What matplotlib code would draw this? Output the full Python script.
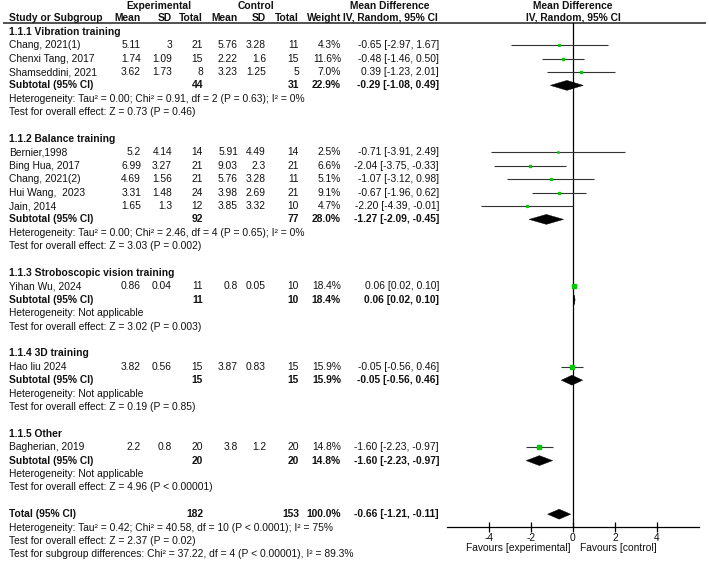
import matplotlib
matplotlib.use("Agg")
import matplotlib.pyplot as plt
import numpy as np

# ---------------- data ----------------
group_names = ["1.1.1 Vibration training", "1.1.2 Balance training",
               "1.1.3 Stroboscopic vision training", "1.1.4 3D training", "1.1.5 Other"]
study_names = ["Chang, 2021(1)", "Chenxi Tang, 2017", "Shamseddini, 2021",
               "Bernier,1998", "Bing Hua, 2017", "Chang, 2021(2)", "Hui Wang,  2023", "Jain, 2014",
               "Yihan Wu, 2024", "Hao liu 2024", "Bagherian, 2019"]
study_group = [0, 0, 0, 1, 1, 1, 1, 1, 2, 3, 4]
exp_mean = [5.11, 1.74, 3.62, 5.2, 6.99, 4.69, 3.31, 1.65, 0.86, 3.82, 2.2]
exp_sd = [3, 1.09, 1.73, 4.14, 3.27, 1.56, 1.48, 1.3, 0.04, 0.56, 0.8]
exp_n = [21, 15, 8, 14, 21, 21, 24, 12, 11, 15, 20]
ctl_mean = [5.76, 2.22, 3.23, 5.91, 9.03, 5.76, 3.98, 3.85, 0.8, 3.87, 3.8]
ctl_sd = [3.28, 1.6, 1.25, 4.49, 2.3, 3.28, 2.69, 3.32, 0.05, 0.83, 1.2]
ctl_n = [11, 15, 5, 14, 21, 11, 21, 10, 10, 15, 20]
weight = [4.3, 11.6, 7.0, 2.5, 6.6, 5.1, 9.1, 4.7, 18.4, 15.9, 14.8]
md = [-0.65, -0.48, 0.39, -0.71, -2.04, -1.07, -0.67, -2.20, 0.06, -0.05, -1.60]
md_lo = [-2.97, -1.46, -1.23, -3.91, -3.75, -3.12, -1.96, -4.39, 0.02, -0.56, -2.23]
md_hi = [1.67, 0.50, 2.01, 2.49, -0.33, 0.98, 0.62, -0.01, 0.10, 0.46, -0.97]

sub_exp_n = [44, 92, 11, 15, 20]
sub_ctl_n = [31, 77, 10, 15, 20]
sub_weight = [22.9, 28.0, 18.4, 15.9, 14.8]
sub_md = [-0.29, -1.27, 0.06, -0.05, -1.60]
sub_lo = [-1.08, -2.09, 0.02, -0.56, -2.23]
sub_hi = [0.49, -0.45, 0.10, 0.46, -0.97]
sub_het = ["Tau\u00b2 = 0.00; Chi\u00b2 = 0.91, df = 2 (P = 0.63); I\u00b2 = 0%",
           "Tau\u00b2 = 0.00; Chi\u00b2 = 2.46, df = 4 (P = 0.65); I\u00b2 = 0%",
           "Not applicable", "Not applicable", "Not applicable"]
sub_z = ["Z = 0.73 (P = 0.46)", "Z = 3.03 (P = 0.002)", "Z = 3.02 (P = 0.003)",
         "Z = 0.19 (P = 0.85)", "Z = 4.96 (P < 0.00001)"]

total_exp_n = 182
total_ctl_n = 153
total_weight = 100.0
total_md, total_lo, total_hi = -0.66, -1.21, -0.11
total_het = "Tau\u00b2 = 0.42; Chi\u00b2 = 40.58, df = 10 (P < 0.0001); I\u00b2 = 75%"
total_z = "Z = 2.37 (P = 0.02)"
subgroup_diff = "Chi\u00b2 = 37.22, df = 4 (P < 0.00001), I\u00b2 = 89.3%"

x_ticks = [-4, -2, 0, 2, 4]
x_range = (-6, 6)

# ---------------- layout ----------------
W, H = 709, 561
plt.rcParams['font.family'] = ['Liberation Sans', 'DejaVu Sans']
FS = 7.4
TXT = '#111111'
LINE = '#333333'
GREEN = '#00c800'

fig = plt.figure(figsize=(W / 100, H / 100), dpi=100)
y0, pitch = 5.0, 13.4


def row_of(py):
    return (py - y0) / pitch


tax = fig.add_axes([0, 0, 1, 1])
tax.set_xlim(0, W)
tax.set_ylim(row_of(H), row_of(0))
tax.axis('off')

fx0, fx1, fy_top, fy_bot = 447, 699, 23, 527
fax = fig.add_axes([fx0 / W, (H - fy_bot) / H, (fx1 - fx0) / W, (fy_bot - fy_top) / H])
fax.set_xlim(*x_range)
fax.set_ylim(row_of(fy_bot), row_of(fy_top))
fax.patch.set_alpha(0)
for s in ['top', 'right', 'left']:
    fax.spines[s].set_visible(False)
fax.spines['bottom'].set_linewidth(0.9)
fax.set_yticks([])
fax.set_xticks(x_ticks)
fax.set_xticklabels([str(t) for t in x_ticks], fontsize=FS, color=TXT)
fax.tick_params(axis='x', direction='inout', length=7, width=0.9, pad=0.5)
fax.axvline(0, color='black', lw=0.9)

# column right edges
C_NAME = 9
C_EM, C_ESD, C_EN = 141, 172, 203
C_CM, C_CSD, C_CN = 238, 266, 299
C_W, C_MD = 341, 439


def t(x, r, s, ha='left', bold=False):
    tax.text(x, r, s, ha=ha, va='center', fontsize=FS, color=TXT,
             fontweight='bold' if bold else 'normal')


# headers
t((115 + C_EN) / 2, 0.05, "Experimental", ha='center', bold=True)
t((212 + C_CN) / 2, 0.05, "Control", ha='center', bold=True)
t(390, 0.05, "Mean Difference", ha='center', bold=True)
t(573, 0.05, "Mean Difference", ha='center', bold=True)
hdr = 0.95
t(C_NAME, hdr, "Study or Subgroup", bold=True)
for x, s in [(C_EM, "Mean"), (C_ESD, "SD"), (C_EN, "Total"), (C_CM, "Mean"),
             (C_CSD, "SD"), (C_CN, "Total"), (C_W, "Weight")]:
    t(x, hdr, s, ha='right', bold=True)
t(390, hdr, "IV, Random, 95% CI", ha='center', bold=True)
t(573, hdr, "IV, Random, 95% CI", ha='center', bold=True)
tax.plot([3, 706], [row_of(23)] * 2, color='#222222', lw=1.1, solid_capstyle='butt')


def diamond(r, m, lo, hi, h=0.37):
    fax.fill([lo, m, hi, m], [r, r - h, r, r + h], color='black', lw=0.3, ec='black')


def md_str(m, lo, hi):
    return f"{m:.2f} [{lo:.2f}, {hi:.2f}]"


row = 2
for g, gname in enumerate(group_names):
    t(C_NAME, row, gname, bold=True)
    row += 1
    for i in range(len(study_names)):
        if study_group[i] != g:
            continue
        t(C_NAME, row, study_names[i])
        t(C_EM, row, f"{exp_mean[i]:g}", ha='right')
        t(C_ESD, row, f"{exp_sd[i]:g}", ha='right')
        t(C_EN, row, f"{exp_n[i]}", ha='right')
        t(C_CM, row, f"{ctl_mean[i]:g}", ha='right')
        t(C_CSD, row, f"{ctl_sd[i]:g}", ha='right')
        t(C_CN, row, f"{ctl_n[i]}", ha='right')
        t(C_W, row, f"{weight[i]:.1f}%", ha='right')
        t(C_MD, row, md_str(md[i], md_lo[i], md_hi[i]), ha='right')
        fax.plot([md_lo[i], md_hi[i]], [row, row], color=LINE, lw=0.8, solid_capstyle='butt')
        fax.plot([md[i]], [row], marker='s', color=GREEN, mec=GREEN,
                 markersize=0.6 * np.sqrt(weight[i]), linestyle='none')
        row += 1
    t(C_NAME, row, "Subtotal (95% CI)", bold=True)
    t(C_EN, row, f"{sub_exp_n[g]}", ha='right', bold=True)
    t(C_CN, row, f"{sub_ctl_n[g]}", ha='right', bold=True)
    t(C_W, row, f"{sub_weight[g]:.1f}%", ha='right', bold=True)
    t(C_MD, row, md_str(sub_md[g], sub_lo[g], sub_hi[g]), ha='right', bold=True)
    diamond(row, sub_md[g], sub_lo[g], sub_hi[g])
    row += 1
    t(C_NAME, row, "Heterogeneity: " + sub_het[g])
    row += 1
    t(C_NAME, row, "Test for overall effect: " + sub_z[g])
    row += 2

t(C_NAME, row, "Total (95% CI)", bold=True)
t(C_EN, row, f"{total_exp_n}", ha='right', bold=True)
t(C_CN, row, f"{total_ctl_n}", ha='right', bold=True)
t(C_W, row, f"{total_weight:.1f}%", ha='right', bold=True)
t(C_MD, row, md_str(total_md, total_lo, total_hi), ha='right', bold=True)
diamond(row, total_md, total_lo, total_hi)
row += 1
t(C_NAME, row, "Heterogeneity: " + total_het)
row += 1
t(C_NAME, row, "Test for overall effect: " + total_z)
row += 1
t(C_NAME, row, "Test for subgroup differences: " + subgroup_diff)

yfav = -(548 - fy_bot) / (fy_bot - fy_top)
fax.text(-0.1, yfav, "Favours [experimental]", transform=fax.get_xaxis_transform(),
         ha='right', va='center', fontsize=FS, color=TXT)
fax.text(0.35, yfav, "Favours [control]", transform=fax.get_xaxis_transform(),
         ha='left', va='center', fontsize=FS, color=TXT)

fig.savefig("out.png", dpi=100, facecolor='white')
